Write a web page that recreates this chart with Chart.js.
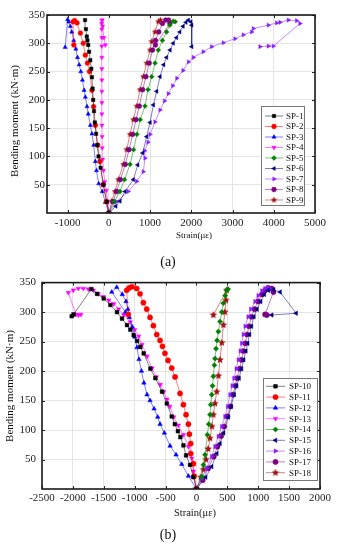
<!DOCTYPE html>
<html>
<head>
<meta charset="utf-8">
<script src="https://cdn.jsdelivr.net/npm/chart.js@4.4.0/dist/chart.umd.min.js"></script>
<style>
  html, body { margin: 0; padding: 0; background: #fff; }
  #wrap { position: relative; width: 339px; height: 550px; }
  canvas { position: absolute; left: 0; }
</style>
</head>
<body>
<div id="wrap">
  <canvas id="chart-a" width="339" height="270" style="top:0"></canvas>
  <canvas id="chart-b" width="339" height="280" style="top:270px"></canvas>
</div>
<script>
// tick labels
const momentTicks = [50, 100, 150, 200, 250, 300, 350];
const strainTicksA = [-1000, 0, 1000, 2000, 3000, 4000, 5000];
const strainTicksB = [-2500, -2000, -1500, -1000, -500, 0, 500, 1000, 1500, 2000];

// (a) SP-1 .. SP-9   strain (µε) / bending moment (kN·m)
const sp1Strain = [0, -50, -130, -200, -250, -280, -310, -340, -360, -380, -395, -410, -425, -450, -480, -500, -520, -536, -555, -577];
const sp1Moment = [0, 20, 50, 80, 100, 120, 140, 160, 180, 200, 220, 240, 255, 270, 285, 297, 305, 312, 325, 341];
const sp2Strain = [0, -60, -140, -215, -270, -327, -370, -410, -470, -520, -570, -620, -690, -771, -830, -870, -850];
const sp2Moment = [0, 20, 50, 91, 120, 155, 188, 217, 250, 265, 279, 300, 318, 336, 340, 338, 297];
const sp3Strain = [0, -85, -160, -246, -300, -327, -367, -410, -448, -500, -529, -570, -600, -640, -680, -720, -760, -800, -852, -900, -933, -974, -1000, -1060];
const sp3Moment = [0, 19, 38, 52, 75, 91, 120, 140, 155, 175, 188, 205, 217, 235, 250, 262, 275, 290, 305, 320, 330, 338, 342, 293];
const sp4Strain = [0, -30, -60, -100, -130, -150, -160, -165, -168, -170, -170, -170, -170, -170, -170, -172, -172, -172, -175, -170, -160, -150, -120, -85];
const sp4Moment = [0, 20, 40, 55, 75, 95, 115, 135, 155, 175, 195, 215, 235, 255, 275, 295, 310, 325, 335, 341, 341, 330, 310, 297];
const sp5Strain = [0, 130, 270, 380, 514, 600, 680, 760, 877, 950, 1040, 1120, 1200, 1300, 1400, 1480, 1560, 1610];
const sp5Moment = [0, 20, 38, 59, 86, 112, 139, 165, 189, 218, 241, 265, 288, 305, 320, 332, 339, 338];
const sp6Strain = [0, 170, 270, 393, 595, 700, 821, 918, 1000, 1080, 1160, 1241, 1330, 1400, 1484, 1560, 1640, 1720, 1800, 1870, 1928, 1990, 2010, 2010];
const sp6Moment = [0, 12, 21, 38, 59, 85, 106, 135, 160, 191, 215, 241, 262, 275, 288, 300, 310, 320, 330, 337, 341, 338, 332, 294];
const sp7Strain = [0, 190, 470, 676, 836, 877, 870, 950, 1000, 1120, 1243, 1350, 1443, 1550, 1650, 1800, 1930, 2050, 2290, 2495, 2777, 3060, 3262, 3465, 3504, 3868, 4071, 4152, 4353, 4556, 4637, 3990, 3868, 3667];
const sp7Moment = [0, 20, 38, 56, 73, 97, 110, 125, 139, 161, 182, 198, 211, 225, 238, 252, 267, 275, 285, 294, 301, 308, 315, 320, 326, 332, 336, 337, 341, 340, 335, 295, 295, 294];
const sp8Strain = [0, 100, 190, 280, 400, 490, 580, 660, 740, 820, 900, 980, 1060, 1130, 1210, 1300, 1380, 1450, 1480, 1130];
const sp8Moment = [0, 20, 38, 59, 86, 112, 139, 165, 189, 218, 241, 265, 288, 305, 320, 335, 341, 341, 335, 297];
const sp9Strain = [0, 70, 150, 230, 352, 433, 514, 595, 676, 756, 837, 918, 1000, 1040, 1120, 1200, 1250];
const sp9Moment = [0, 21, 38, 59, 86, 112, 139, 165, 189, 218, 241, 265, 288, 303, 320, 338, 341];

// (b) SP-10 .. SP-18
const sp10Strain = [0, -50, -104, -168, -211, -260, -300, -350, -400, -480, -557, -665, -746, -854, -908, -960, -1016, -1070, -1124, -1205, -1286, -1393, -1501, -1609, -1700, -1990, -2019];
const sp10Moment = [0, 20, 41, 57, 74, 88, 98, 110, 123, 145, 165, 188, 204, 230, 241, 251, 261, 270, 278, 289, 300, 312, 323, 331, 339, 296, 293];
const sp11Strain = [0, -38, -49, -92, -92, -114, -130, -168, -211, -265, -346, -400, -460, -510, -550, -589, -643, -697, -751, -805, -859, -913, -967, -1043, -1090, -1129, -1103];
const sp11Moment = [0, 22, 43, 60, 77, 93, 110, 126, 143, 162, 190, 205, 218, 230, 242, 252, 262, 277, 291, 305, 316, 331, 340, 343, 341, 337, 296];
const sp12Strain = [0, -130, -238, -330, -427, -519, -589, -627, -686, -751, -800, -850, -890, -930, -962, -1000, -1040, -1086, -1110, -1140, -1200, -1290, -1371, -1150];
const sp12Moment = [0, 22, 42, 58, 73, 95, 110, 122, 136, 150, 160, 180, 200, 220, 240, 258, 275, 291, 305, 318, 330, 342, 334, 300];
const sp13Strain = [0, -49, -76, -130, -211, -293, -368, -430, -476, -530, -584, -650, -719, -800, -881, -935, -1000, -1070, -1177, -1260, -1339, -1420, -1507, -1588, -1669, -1750, -1831, -1912, -1993, -2074, -1950, -1910, -1870];
const sp13Moment = [0, 30, 52, 72, 92, 108, 122, 140, 152, 165, 177, 190, 205, 225, 245, 259, 270, 283, 295, 305, 314, 320, 326, 331, 337, 339, 340, 340, 337, 333, 296, 295, 296];
const sp14Strain = [0, 86, 112, 139, 177, 200, 220, 231, 247, 260, 274, 290, 301, 317, 335, 355, 382, 410, 436, 465, 490, 510];
const sp14Moment = [0, 21, 41, 58, 92, 110, 126, 143, 160, 175, 191, 210, 221, 238, 252, 267, 284, 300, 315, 328, 337, 339];
const sp15Strain = [0, 150, 247, 330, 382, 440, 517, 560, 610, 650, 690, 730, 765, 800, 830, 860, 890, 930, 980, 1040, 1100, 1160, 1250, 1354, 1614, 1219];
const sp15Moment = [0, 20, 38, 60, 77, 95, 122, 140, 160, 175, 188, 204, 219, 234, 247, 262, 276, 292, 305, 318, 330, 337, 338, 334, 298, 295];
const sp16Strain = [0, 85, 166, 247, 300, 355, 410, 463, 505, 544, 580, 609, 645, 679, 710, 733, 760, 790, 837, 880, 949, 1000, 1060, 1110, 1160, 1200];
const sp16Moment = [0, 18, 35, 55, 72, 89, 106, 123, 140, 160, 175, 188, 204, 219, 234, 247, 262, 276, 292, 305, 318, 328, 336, 340, 341, 338];
const sp17Strain = [0, 100, 190, 280, 340, 400, 450, 500, 550, 590, 630, 660, 700, 730, 760, 790, 820, 850, 890, 940, 1000, 1060, 1110, 1160, 1220, 1246, 1111, 1140];
const sp17Moment = [0, 15, 35, 55, 72, 90, 106, 123, 140, 160, 175, 188, 204, 219, 234, 247, 262, 276, 292, 305, 318, 330, 337, 341, 340, 334, 296, 295];
const sp18Strain = [0, 70, 112, 155, 190, 220, 250, 274, 300, 328, 355, 382, 410, 436, 460, 478, 490, 274];
const sp18Moment = [0, 20, 33, 50, 68, 86, 106, 126, 145, 165, 192, 219, 248, 278, 300, 320, 337, 295];

const FONT = '"Liberation Serif", "Times New Roman", serif';
const colors = ['#000000', '#ff0000', '#0000ff', '#ff00ff', '#008000', '#000080', '#8a1cff', '#800080', '#a01010'];
const markers = [['rect', 0], ['circle', 0], ['triangle', 0], ['triangle', 180], ['rectRot', 0],
                 ['triangle', -90], ['triangle', 90], ['circle', 0], ['star', 0]];

function fade(hex, a) {
  const n = parseInt(hex.slice(1), 16);
  return `rgba(${n >> 16},${(n >> 8) & 255},${n & 255},${a})`;
}

function starImage(color, size) {
  const c = document.createElement('canvas');
  c.width = size; c.height = size;
  const g = c.getContext('2d');
  const r = size / 2, r2 = r * 0.45;
  g.fillStyle = color;
  g.beginPath();
  for (let i = 0; i < 10; i++) {
    const rad = i % 2 ? r2 : r;
    const ang = -Math.PI / 2 + i * Math.PI / 5;
    g.lineTo(r + rad * Math.cos(ang), r + rad * Math.sin(ang));
  }
  g.closePath();
  g.fill();
  return c;
}

function series(label, xs, ys, k, radius) {
  const color = colors[k];
  let style = markers[k][0];
  if (style === 'star') style = starImage(color, Math.round(radius * 3));
  return {
    label,
    data: xs.map((x, i) => ({ x, y: ys[i] })),
    showLine: true,
    borderColor: fade(color, 0.5),
    borderWidth: 1,
    backgroundColor: color,
    pointBackgroundColor: color,
    pointBorderColor: color,
    pointBorderWidth: 0.5,
    pointStyle: style,
    pointRotation: markers[k][1],
    pointRadius: radius,
  };
}

const decor = {
  id: 'decor',
  afterDatasetsDraw(chart, args, o) {
    const { ctx, chartArea: a, scales } = chart;
    ctx.save();
    // inward tick marks on all four sides
    ctx.strokeStyle = '#222';
    ctx.lineWidth = 1;
    ctx.beginPath();
    scales.x.ticks.forEach(t => {
      const px = Math.round(scales.x.getPixelForValue(t.value)) + 0.5;
      ctx.moveTo(px, a.bottom); ctx.lineTo(px, a.bottom - 3);
      ctx.moveTo(px, a.top); ctx.lineTo(px, a.top + 3);
    });
    scales.y.ticks.forEach(t => {
      const py = Math.round(scales.y.getPixelForValue(t.value)) + 0.5;
      ctx.moveTo(a.left, py); ctx.lineTo(a.left + 3, py);
      ctx.moveTo(a.right, py); ctx.lineTo(a.right - 3, py);
    });
    ctx.stroke();
    ctx.lineWidth = 1.6;
    ctx.strokeStyle = '#1a1a1a';
    ctx.strokeRect(a.left, a.top, a.right - a.left, a.bottom - a.top);

    // titles
    ctx.fillStyle = '#111';
    ctx.textAlign = 'center';
    ctx.textBaseline = 'middle';
    ctx.font = `${o.xTitleSize}px ${FONT}`;
    ctx.fillText('Strain(με)', o.xTitleX, o.xTitleY);
    ctx.font = `${o.panelSize}px ${FONT}`;
    ctx.fillText(o.panel, o.panelX, o.panelY);
    ctx.save();
    ctx.translate(o.yTitleX, o.yTitleY);
    ctx.rotate(-Math.PI / 2);
    ctx.font = `11px ${FONT}`;
    ctx.fillText('Bending moment (kN·m)', 0, 0);
    ctx.restore();

    // legend box
    const L = o.legend;
    ctx.fillStyle = '#fff';
    ctx.fillRect(L.left, L.top, L.right - L.left, L.bottom - L.top);
    ctx.strokeStyle = '#777';
    ctx.lineWidth = 1;
    ctx.strokeRect(L.left + 0.5, L.top + 0.5, L.right - L.left, L.bottom - L.top);
    ctx.font = `9px ${FONT}`;
    ctx.textAlign = 'left';
    chart.data.datasets.forEach((ds, i) => {
      const y = L.rowY + i * L.rowH;
      ctx.strokeStyle = ds.borderColor;
      ctx.lineWidth = 1;
      ctx.beginPath();
      ctx.moveTo(L.lineX1, y); ctx.lineTo(L.lineX2, y);
      ctx.stroke();
      ctx.fillStyle = ds.pointBackgroundColor;
      ctx.strokeStyle = ds.pointBorderColor;
      ctx.lineWidth = 0.5;
      const mx = (L.lineX1 + L.lineX2) / 2;
      if (Chart.helpers && Chart.helpers.drawPoint) {
        Chart.helpers.drawPoint(ctx, { pointStyle: ds.pointStyle, rotation: ds.pointRotation, radius: ds.pointRadius, borderWidth: 0.5 }, mx, y);
      }
      ctx.fillStyle = '#111';
      ctx.fillText(ds.label, L.textX, y + 0.5);
    });
    ctx.restore();
  }
};

function makeChart(id, datasets, cfg) {
  return new Chart(document.getElementById(id), {
    type: 'scatter',
    data: { datasets },
    plugins: [decor],
    options: {
      responsive: false,
      animation: false,
      layout: { padding: cfg.padding },
      plugins: { legend: { display: false }, tooltip: { enabled: false }, decor: cfg.decor },
      scales: {
        x: {
          type: 'linear', min: cfg.xMin, max: cfg.xMax,
          afterBuildTicks: s => { s.ticks = cfg.xTicks.map(v => ({ value: v })); },
          afterFit: s => { s.height = cfg.xHeight; },
          grid: { color: '#e4e4e4', drawTicks: false },
          border: { display: false },
          ticks: {
            font: { family: FONT, size: 11 }, color: '#222', padding: cfg.xPad,
            maxRotation: 0, autoSkip: false, callback: v => String(v),
          },
        },
        y: {
          type: 'linear', min: 0, max: 350,
          afterBuildTicks: s => { s.ticks = momentTicks.map(v => ({ value: v })); },
          afterFit: s => { s.width = cfg.yWidth; },
          grid: { color: '#e4e4e4', drawTicks: false },
          border: { display: false },
          ticks: {
            font: { family: FONT, size: 11 }, color: '#222', padding: cfg.yPad,
            autoSkip: false, callback: v => String(v),
          },
        },
      },
    },
  });
}

const rA = 2.4;
makeChart('chart-a', [
  series('SP-1', sp1Strain, sp1Moment, 0, rA),
  series('SP-2', sp2Strain, sp2Moment, 1, rA),
  series('SP-3', sp3Strain, sp3Moment, 2, rA),
  series('SP-4', sp4Strain, sp4Moment, 3, rA),
  series('SP-5', sp5Strain, sp5Moment, 4, rA),
  series('SP-6', sp6Strain, sp6Moment, 5, rA),
  series('SP-7', sp7Strain, sp7Moment, 6, rA),
  series('SP-8', sp8Strain, sp8Moment, 7, rA),
  series('SP-9', sp9Strain, sp9Moment, 8, rA),
], {
  padding: { top: 15, right: 24, left: 0, bottom: 0 },
  xMin: -1500, xMax: 5000, xTicks: strainTicksA, xHeight: 57, xPad: 4, yWidth: 47, yPad: 2,
  decor: {
    xTitleX: 194, xTitleY: 236, xTitleSize: 9,
    yTitleX: 15, yTitleY: 121,
    panel: '(a)', panelX: 168, panelY: 262, panelSize: 14,
    legend: { left: 261, top: 106, right: 304, bottom: 205, rowY: 116, rowH: 10.5, lineX1: 265, lineX2: 283, textX: 286 },
  },
});

const rB = 2.6;
makeChart('chart-b', [
  series('SP-10', sp10Strain, sp10Moment, 0, rB),
  series('SP-11', sp11Strain, sp11Moment, 1, rB),
  series('SP-12', sp12Strain, sp12Moment, 2, rB),
  series('SP-13', sp13Strain, sp13Moment, 3, rB),
  series('SP-14', sp14Strain, sp14Moment, 4, rB),
  series('SP-15', sp15Strain, sp15Moment, 5, rB),
  series('SP-16', sp16Strain, sp16Moment, 6, rB),
  series('SP-17', sp17Strain, sp17Moment, 7, rB),
  series('SP-18', sp18Strain, sp18Moment, 8, rB),
], {
  padding: { top: 12, right: 19, left: 0, bottom: 0 },
  xMin: -2500, xMax: 2000, xTicks: strainTicksB, xHeight: 61, xPad: 3, yWidth: 42, yPad: 6,
  decor: {
    xTitleX: 195, xTitleY: 243, xTitleSize: 10.5,
    yTitleX: 10, yTitleY: 116,
    panel: '(b)', panelX: 168, panelY: 265, panelSize: 14,
    legend: { left: 263, top: 108, right: 317, bottom: 210, rowY: 116.3, rowH: 10.8, lineX1: 266, lineX2: 285, textX: 289 },
  },
});
</script>
</body>
</html>
